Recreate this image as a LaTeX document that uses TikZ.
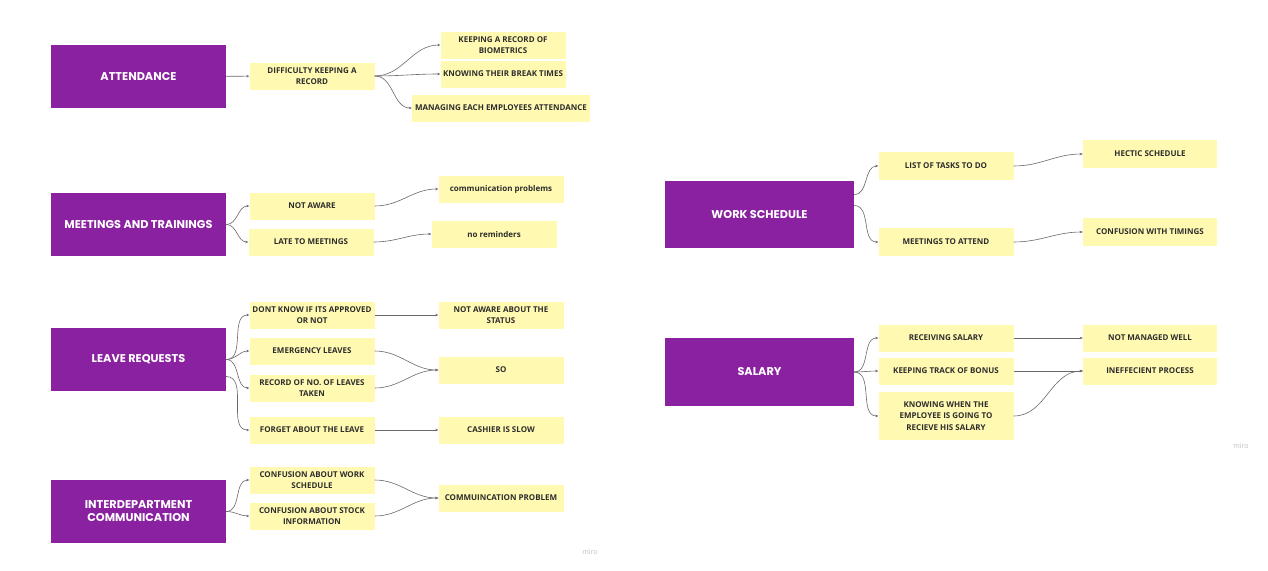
\documentclass[tikz,border=0pt]{standalone}
\usepackage{fontspec}
\setmainfont{Open Sans}
\newfontfamily\headfont{Poppins}
\usetikzlibrary{arrows.meta,calc}
\definecolor{headpurple}{RGB}{137,33,160}
\definecolor{noteyellow}{RGB}{255,249,177}
\definecolor{notetext}{RGB}{45,45,45}
\definecolor{linkgray}{RGB}{105,105,105}
\begin{document}
\begin{tikzpicture}[x=1pt, y=-1pt,
  head/.style={fill=headpurple, text=white, inner sep=0,
    font=\headfont\bfseries\fontsize{11.3}{13}\selectfont,
    minimum width=175, minimum height=63, align=center},
  note/.style={fill=noteyellow, text=notetext, inner sep=1,
    font=\bfseries\fontsize{8}{11.2}\selectfont,
    minimum width=125, minimum height=27, align=center},
  link/.style={draw=linkgray, line width=0.6pt,
    -{Stealth[length=3pt,width=2.5pt]}},
  watermark/.style={text=black!25, font=\fontsize{7}{8}\selectfont}]
\useasboundingbox[fill=white] (0,0) rectangle (1268,570);

% Attendance
\node[head] (att) at (138.5,76.5) {ATTENDANCE};
\node[note] (attDiff) at (312,76) {DIFFICULTY KEEPING A\\RECORD};
\node[note] (attBio) at (503,45) {KEEPING A RECORD OF\\BIOMETRICS};
\node[note] (attBreak) at (503,74) {KNOWING THEIR BREAK TIMES};
\node[note, minimum width=178] (attManage) at (501,108) {MANAGING EACH EMPLOYEES ATTENDANCE};
\draw[link] (att) -- (attDiff);
\foreach \t in {attBio, attBreak, attManage}
  \draw[link] (attDiff.east) to[out=0, in=180] (\t.west);

% Meetings and trainings
\node[head] (meet) at (138.5,224.5) {MEETINGS AND TRAININGS};
\node[note] (meetAware) at (312,206) {NOT AWARE};
\node[note] (meetLate) at (311,242) {LATE TO MEETINGS};
\node[note] (meetComm) at (501,189) {communication problems};
\node[note] (meetRemind) at (494,234) {no reminders};
\draw[link] (meet.east) to[out=0, in=180] (meetAware.west);
\draw[link] (meet.east) to[out=0, in=180] (meetLate.west);
\draw[link] (meetAware.east) to[out=0, in=180] (meetComm.west);
\draw[link] (meetLate.east) to[out=0, in=180] (meetRemind.west);

% Leave requests
\node[head] (leave) at (138.5,359.5) {LEAVE REQUESTS};
\node[note] (leaveApprove) at (312,315) {DONT KNOW IF ITS APPROVED\\OR NOT};
\node[note] (leaveEmerg) at (312,351) {EMERGENCY LEAVES};
\node[note] (leaveRecord) at (312,388) {RECORD OF NO. OF LEAVES\\TAKEN};
\node[note] (leaveForget) at (312,430) {FORGET ABOUT THE LEAVE};
\node[note] (leaveStatus) at (501,315) {NOT AWARE ABOUT THE\\STATUS};
\node[note] (leaveSo) at (501,370) {SO};
\node[note] (leaveCashier) at (501,430) {CASHIER IS SLOW};
\coordinate (leaveLow) at ($(leave.east)+(0,17)$);
\foreach \t in {leaveApprove, leaveEmerg, leaveRecord}
  \draw[link] (leave.east) to[out=0, in=180] (\t.west);
\draw[link] (leaveLow) to[out=0, in=180] (leaveForget.west);
\draw[link] (leaveApprove) -- (leaveStatus);
\draw[link] (leaveEmerg.east) to[out=0, in=180] (leaveSo.west);
\draw[link] (leaveRecord.east) to[out=0, in=180] (leaveSo.west);
\draw[link] (leaveForget) -- (leaveCashier);

% Interdepartment communication
\node[head] (inter) at (138.5,511.5) {INTERDEPARTMENT\\COMMUNICATION};
\node[note] (interWork) at (312,480) {CONFUSION ABOUT WORK\\SCHEDULE};
\node[note] (interStock) at (312,516) {CONFUSION ABOUT STOCK\\INFORMATION};
\node[note] (interProb) at (501,498) {COMMUINCATION PROBLEM};
\draw[link] (inter.east) to[out=0, in=180] (interWork.west);
\draw[link] (inter.east) to[out=0, in=180] (interStock.west);
\draw[link] (interWork.east) to[out=0, in=180] (interProb.west);
\draw[link] (interStock.east) to[out=0, in=180] (interProb.west);

% Work schedule
\node[head, minimum width=189, minimum height=67] (work) at (759.5,214.5) {WORK SCHEDULE};
\node[note, minimum width=135, minimum height=28] (workTasks) at (946,166) {LIST OF TASKS TO DO};
\node[note, minimum width=135, minimum height=28] (workMeet) at (946,242) {MEETINGS TO ATTEND};
\node[note, minimum width=134, minimum height=28] (workHectic) at (1150,154) {HECTIC SCHEDULE};
\node[note, minimum width=134, minimum height=28] (workTiming) at (1150,232) {CONFUSION WITH TIMINGS};
\coordinate (workUp) at ($(work.east)+(0,-20)$);
\coordinate (workDown) at ($(work.east)+(0,-9)$);
\draw[link] (workUp) to[out=0, in=180] (workTasks.west);
\draw[link] (workDown) to[out=0, in=180] (workMeet.west);
\draw[link] (workTasks.east) to[out=0, in=180] (workHectic.west);
\draw[link] (workMeet.east) to[out=0, in=180] (workTiming.west);

% Salary
\node[head, minimum width=189, minimum height=68] (sal) at (759.5,372) {SALARY};
\node[note, minimum width=135] (salRecv) at (946,338) {RECEIVING SALARY};
\node[note, minimum width=135] (salBonus) at (946,371) {KEEPING TRACK OF BONUS};
\node[note, minimum width=135, minimum height=48] (salWhen) at (946,416) {KNOWING WHEN THE\\EMPLOYEE IS GOING TO\\RECIEVE HIS SALARY};
\node[note, minimum width=134] (salWell) at (1150,338) {NOT MANAGED WELL};
\node[note, minimum width=134] (salIneff) at (1150,371) {INEFFECIENT PROCESS};
\foreach \t in {salRecv, salBonus, salWhen}
  \draw[link] (sal.east) to[out=0, in=180] (\t.west);
\draw[link] (salRecv) -- (salWell);
\draw[link] (salBonus) -- (salIneff);
\draw[link] (salWhen.east) to[out=0, in=180] (salIneff.west);

% watermarks
\node[watermark] (markLeft) at (590,552) {miro};
\node[watermark] (markRight) at (1241,446) {miro};
\end{tikzpicture}
\end{document}
